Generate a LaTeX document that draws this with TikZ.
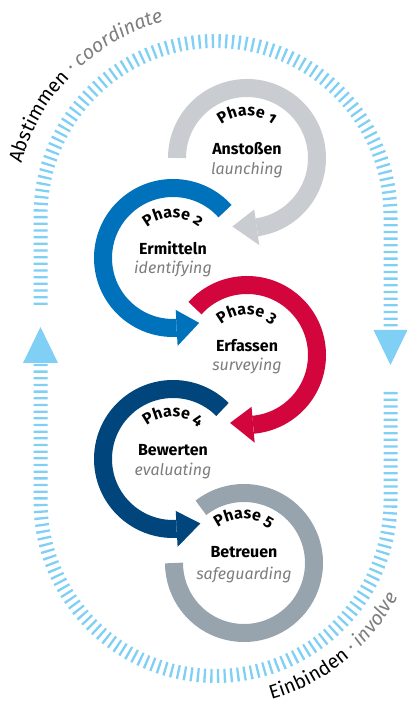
\documentclass[tikz,border=0pt]{standalone}
\usepackage{fontspec}
\setmainfont{Fira Sans}
\newfontfamily\phasefont{Fira Sans}[Numbers=OldStyle]
\usetikzlibrary{decorations.text,calc}
\definecolor{gOne}{RGB}{201,204,208}
\definecolor{bTwo}{RGB}{0,114,188}
\definecolor{rThree}{RGB}{210,5,60}
\definecolor{nFour}{RGB}{0,70,124}
\definecolor{gFive}{RGB}{152,164,173}
\definecolor{sky}{RGB}{128,208,245}
\definecolor{txtgray}{RGB}{125,125,125}
\begin{document}
\begin{tikzpicture}[x=1pt,y=1pt,
  ring/.style={line width=18pt},
  dashring/.style={draw=sky,line width=14pt,dash pattern=on 2.3pt off 4.37pt},
  lbl/.style={font=\fontsize{16}{16}\selectfont\bfseries,anchor=base,inner sep=0pt},
  sublbl/.style={font=\fontsize{16}{16}\selectfont\itshape,text=txtgray,anchor=base,inner sep=0pt}
]
\useasboundingbox (0,0) rectangle (407,707);
% outer stadium
\coordinate (T) at (215.5,491);
\coordinate (B) at (215.5,206);
\draw[dashring] (40.5,402) -- (40.5,491) arc[start angle=180,end angle=0,radius=175] -- (390.5,377);
\draw[dashring] (390.5,315) -- (390.5,206) arc[start angle=0,end angle=-180,radius=175] -- (40.5,344);
\fill[sky] (23,344) -- (58,344) -- (40.5,380) -- cycle;
\fill[sky] (373.5,377) -- (407.5,377) -- (390.5,342) -- cycle;
% outer texts
\path[decorate,decoration={text along path,text align=center,
  text={|\fontsize{19.5}{19.5}\selectfont|Abstimmen |\fontsize{19.5}{19.5}\selectfont\itshape\color{txtgray}|· coordinate}}]
  ($(T)+(176:201)$) arc[start angle=176,end angle=94,radius=201];
\path[decorate,decoration={text along path,text align=center,
  text={|\fontsize{19.5}{19.5}\selectfont|Einbinden |\fontsize{19.5}{19.5}\selectfont\itshape\color{txtgray}|· involve}}]
  ($(B)+(-91:206)$) arc[start angle=-91,end angle=-11,radius=206];
% centres
\coordinate (C1) at (247,549);
\coordinate (C2) at (173,449);
\coordinate (C3) at (247,352);
\coordinate (C4) at (173,248);
\coordinate (C5) at (244,144);
% phase 1
\draw[ring,gOne] ($(C1)+(180:70)$) arc[start angle=180,end angle=-82,radius=70];
\fill[gOne] ($(C1)+(-82:52)$) -- ($(C1)+(-82:88)$) -- ($(C1)+(-102:70)$) -- cycle;
% phase 2
\draw[ring,bTwo] ($(C2)+(42:70)$) arc[start angle=42,end angle=273,radius=70];
\fill[bTwo] ($(C2)+(273:52)$) -- ($(C2)+(273:88)$) -- ($(C2)+(292:70)$) -- cycle;
% phase 3
\draw[ring,rThree] ($(C3)+(138:70)$) arc[start angle=138,end angle=-85,radius=70];
\fill[rThree] ($(C3)+(-85:52)$) -- ($(C3)+(-85:88)$) -- ($(C3)+(-104:70)$) -- cycle;
% phase 4
\draw[ring,nFour] ($(C4)+(45:70)$) arc[start angle=45,end angle=273,radius=70];
\fill[nFour] ($(C4)+(273:52)$) -- ($(C4)+(273:88)$) -- ($(C4)+(293:70)$) -- cycle;
% phase 5
\draw[ring,gFive] ($(C5)+(128:70)$) arc[start angle=128,end angle=-180,radius=70];
% phase titles
\foreach \c/\n/\r in {C1/1/42,C2/2/40,C3/3/40,C4/4/42,C5/5/44}{
  \path[decorate,decoration={text along path,text align=center,
    text={|\phasefont\bfseries\fontsize{16}{16}\selectfont|Phase \n}}]
    ($(\c)+(155:\r)$) arc[start angle=155,end angle=25,radius=\r];
}
% labels
\node[lbl] (n1) at ($(C1)+(0,3)$) {Anstoßen};
\node[sublbl] (s1) at ($(C1)+(0,-17)$) {launching};
\node[lbl] (n2) at ($(C2)+(0,3)$) {Ermitteln};
\node[sublbl] (s2) at ($(C2)+(0,-16)$) {identifying};
\node[lbl] (n3) at ($(C3)+(0,3)$) {Erfassen};
\node[sublbl] (s3) at ($(C3)+(0,-16)$) {surveying};
\node[lbl] (n4) at ($(C4)+(0,3)$) {Bewerten};
\node[sublbl] (s4) at ($(C4)+(0,-17)$) {evaluating};
\node[lbl] (n5) at ($(C5)+(0,5)$) {Betreuen};
\node[sublbl] (s5) at ($(C5)+(0,-17)$) {safeguarding};
\end{tikzpicture}
\end{document}
